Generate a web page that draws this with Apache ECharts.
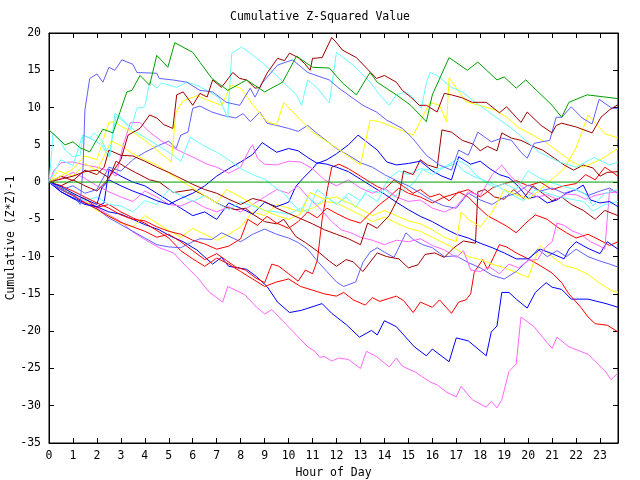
<!DOCTYPE html>
<html><head><meta charset="utf-8">
<script src="https://cdn.jsdelivr.net/npm/echarts@6/dist/echarts.min.js"></script>
<style>html,body{margin:0;padding:0;background:#fff}#c{width:640px;height:480px}</style>
</head><body><div id="c"></div>
<script>
const titleText = 'Cumulative Z-Squared Value';
const xName = 'Hour of Day';
const yName = 'Cumulative (Z*Z)-1';
const xMin = 0, xMax = 23.75, yMin = -35, yMax = 20;

const green1 = [[0,7.0],[0.67,5.0],[1.0,5.4],[1.3,4.6],[1.7,4.05],[2.25,7.1],[2.67,6.6],[3.25,12.1],[3.46,12.3],[3.8,14.3],[4.2,13.0],[4.5,17.0],[4.96,15.4],[5.25,18.7],[6.0,17.4],[6.8,13.9],[7.46,12.3],[8.25,13.7],[9.0,12.1],[9.75,13.4],[10.33,16.9],[11.0,15.4],[11.7,15.3],[12.25,13.3],[12.83,11.7],[13.4,14.7],[13.7,13.4],[14.5,11.7],[15.1,10.3],[15.75,8.1],[16.0,11.7],[16.7,16.7],[17.46,15.0],[17.9,16.1],[18.7,13.7],[19.0,14.1],[19.5,12.6],[19.9,13.7],[21.0,10.3],[21.4,8.7],[21.7,10.7],[22.46,11.7],[23.75,11.2]];
const darkred1 = [[0,0],[0.5,0.4],[1,0.8],[1.5,1.4],[2,1.6],[2.5,0.6],[3,3.0],[3.3,6.3],[3.8,7.2],[4.2,9.0],[4.5,8.6],[4.8,7.7],[5.17,7.2],[5.33,11.7],[5.6,12.1],[6.0,10.3],[6.3,11.9],[6.6,11.4],[6.83,13.7],[7.2,12.7],[7.67,14.7],[7.96,13.9],[8.25,13.7],[8.6,12.6],[8.8,12.7],[9.1,14.6],[9.54,16.6],[9.83,16.3],[10.04,17.3],[10.4,16.7],[10.67,15.9],[10.9,15.0],[11.0,16.6],[11.4,16.7],[11.8,19.4],[12.0,18.7],[12.25,17.7],[12.83,16.7],[13.25,15.3],[13.67,13.9],[14.0,14.3],[14.5,13.4],[14.75,12.3],[15.1,11.4],[15.46,10.3],[15.75,10.3],[16.2,9.4],[16.5,11.9],[16.8,11.7],[17.25,11.3],[17.67,10.7],[18.25,10.7],[18.8,9.3],[19.1,10.1],[19.5,8.7],[19.7,8.0],[19.96,9.4],[20.54,7.6],[21.0,6.6],[21.17,7.6],[21.4,7.9],[22.0,7.4],[22.67,6.6],[23.04,8.7],[23.4,9.7],[23.75,10.4]];
const lightblue1 = [[0,0],[0.5,-1.0],[1.0,-1.7],[1.3,-3.0],[1.42,1.9],[1.5,9.7],[1.7,13.9],[2.0,14.5],[2.25,13.4],[2.5,15.4],[2.75,15.0],[3.04,16.4],[3.5,15.8],[3.67,14.7],[4.5,14.6],[4.6,13.9],[5.17,13.7],[5.75,13.4],[6.3,12.3],[6.83,12.1],[7.4,10.7],[7.96,10.3],[8.4,12.6],[8.6,11.4],[8.9,13.3],[9.54,15.7],[10.17,16.4],[10.8,14.7],[11.7,13.7],[12.1,12.6],[13.1,10.3],[13.67,9.4],[14.1,8.3],[14.75,7.2],[15.17,5.9],[15.75,3.6],[16.3,2.3],[16.8,1.6],[17.1,4.3],[17.5,3.6],[17.9,6.7],[18.46,5.4],[18.9,5.9],[19.3,5.6],[19.7,4.0],[19.96,3.2],[20.25,5.2],[20.9,5.6],[21.17,8.7],[21.4,8.7],[21.8,10.1],[22.25,8.6],[22.67,7.8],[22.96,11.1],[23.5,9.9],[23.75,9.9]];
const cyan1 = [[0,0],[0.12,4.3],[0.17,6.6],[0.46,5.6],[0.67,4.3],[1.0,3.4],[1.3,3.6],[1.42,6.3],[1.7,5.9],[1.9,6.6],[2.2,5.6],[2.54,3.4],[2.75,9.2],[3.04,8.6],[3.4,7.0],[3.67,9.9],[4.0,10.1],[4.2,13.4],[4.5,12.6],[4.7,13.3],[5.33,12.7],[5.75,13.4],[6.17,13.0],[6.7,12.1],[7.1,11.3],[7.46,8.6],[7.63,17.3],[8.04,18.1],[8.4,17.3],[8.9,16.0],[9.5,14.3],[9.9,13.0],[10.33,11.7],[10.54,10.3],[10.8,13.7],[11.2,12.6],[11.5,11.4],[11.7,10.6],[12.0,17.4],[12.25,16.8],[12.83,15.3],[13.4,13.4],[13.8,11.7],[14.2,10.3],[14.5,11.7],[14.9,12.1],[15.17,11.4],[15.54,9.9],[15.75,13.3],[15.9,14.7],[16.2,14.3],[16.8,12.7],[17.25,12.1],[17.67,11.0],[18.4,9.3],[19.1,7.7],[19.5,6.7],[19.9,5.6],[20.46,4.0],[21.3,2.7],[22.0,2.0],[22.75,3.3],[23.4,2.3],[23.75,2.7]];
const magenta1 = [[0,0],[0.5,-1.0],[1,-1.8],[1.5,-2.6],[2,-3.4],[2.5,-4.4],[3,-5.3],[3.5,-6.7],[4,-7.7],[4.6,-8.8],[5.2,-9.5],[5.75,-11.4],[6.17,-12.7],[6.7,-14.8],[7.25,-16.1],[7.46,-14.0],[8.17,-15.1],[8.67,-16.8],[9.0,-17.7],[9.3,-17.1],[9.9,-19.1],[10.8,-22.1],[11.1,-22.7],[11.3,-23.5],[11.5,-23.4],[11.8,-24.0],[12.1,-23.6],[12.5,-23.8],[13.0,-25.0],[13.25,-22.7],[13.67,-23.4],[14.2,-24.8],[14.5,-23.6],[14.75,-24.7],[15.3,-25.5],[15.9,-26.8],[16.2,-27.2],[16.6,-28.2],[17.0,-28.8],[17.2,-27.4],[17.67,-29.2],[18.25,-30.2],[18.46,-29.4],[18.7,-30.3],[18.9,-29.2],[19.2,-25.4],[19.5,-24.4],[19.7,-18.1],[20.25,-19.4],[20.6,-20.8],[21.0,-22.3],[21.2,-20.8],[21.7,-22.1],[22.5,-23.1],[23.25,-25.5],[23.46,-26.5],[23.75,-25.6]];
const blue1 = [[0,0],[0.5,-1.3],[1,-2.1],[1.5,-2.8],[2,-3.3],[2.5,-4.0],[3,-4.3],[3.5,-5.0],[4,-5.7],[4.6,-6.4],[5.1,-7.3],[5.6,-8.0],[6.17,-9.1],[6.83,-11.0],[7.2,-10.1],[7.5,-11.3],[8.25,-11.7],[8.67,-12.7],[9.1,-14.0],[9.54,-16.1],[10.04,-17.5],[10.54,-17.2],[11.4,-16.3],[11.8,-17.6],[12.4,-19.1],[12.96,-20.8],[13.46,-19.9],[13.7,-20.5],[14.0,-18.6],[14.5,-19.4],[15.25,-22.1],[15.75,-23.3],[16.0,-22.4],[16.7,-24.1],[17.0,-20.9],[17.5,-21.3],[18.25,-23.3],[18.46,-20.1],[18.7,-19.3],[18.9,-14.8],[19.2,-14.8],[19.5,-15.7],[19.96,-16.9],[20.3,-14.8],[20.75,-13.5],[21.0,-14.1],[21.4,-14.4],[21.8,-15.7],[22.5,-15.7],[23.25,-16.3],[23.75,-16.8]];
const yellow1 = [[0,0],[0.5,0.8],[1,1.8],[1.5,3.5],[2,3.0],[2.5,8.0],[2.75,8.1],[3.0,7.5],[3.5,6.7],[4,5.6],[4.5,4.3],[5.1,2.7],[5.3,9.4],[5.6,10.9],[6.2,11.6],[6.6,11.0],[7.2,10.3],[7.6,13.0],[8.0,12.6],[8.6,10.0],[9.1,8.1],[9.5,7.7],[9.8,10.7],[10.3,9.0],[11.0,6.7],[12.0,4.6],[13.0,2.3],[13.4,8.3],[13.8,8.1],[14.5,7.2],[15.2,6.3],[15.9,10.7],[16.3,10.3],[16.6,8.1],[16.7,14.0],[17.4,10.8],[18.6,9.7],[19.1,8.7],[19.6,7.3],[20.2,6.3],[20.75,5.3],[21.3,4.0],[21.85,2.7],[22.3,2.0],[23.0,3.0],[23.75,4.5]];
const yellow2 = [[0,0],[0.4,1.5],[1,0.8],[1.5,2.5],[2,1.5],[2.6,5.5],[3,4.9],[3.5,3.8],[4,3.0],[4.5,2.3],[5,1.2],[5.5,0.2],[6,-0.8],[6.5,-1.8],[7,-2.8],[7.4,-1.0],[8,-2.0],[8.5,-3.0],[9,-3.8],[9.5,-4.5],[10,-5.0],[10.5,-4.3],[10.9,-1.4],[11.5,-2.3],[12,-2.0],[12.5,-2.8],[13,-3.6],[13.5,-4.5],[14,-3.8],[14.5,-4.5],[15,-5.2],[15.5,-5.6],[16,-6.4],[16.5,-7.4],[17,-8.0],[17.2,-4.0],[17.5,-5.0],[18,-6.0],[18.5,-4.0],[19,-1.0],[19.5,-1.7],[20,-2.3],[20.5,-1.0],[21,0.4],[21.5,1.8],[22,4.6],[22.5,9.0],[22.7,8.3],[23.2,6.5],[23.75,5.9]];
const yellow3 = [[0,0],[0.5,-1.0],[1,-1.5],[1.5,-2.5],[2,-3.8],[2.5,-4.5],[3,-5.5],[3.5,-6.0],[4,-4.5],[4.5,-5.5],[5,-6.5],[5.5,-7.4],[6,-6.2],[6.5,-7.0],[7,-7.8],[7.5,-7.0],[8,-6.0],[8.5,-4.0],[9,-4.5],[9.5,-3.0],[10,-3.5],[10.5,-4.0],[11,-3.5],[11.5,-2.6],[12,-2.8],[12.5,-3.6],[13,-4.4],[13.5,-5.3],[14,-4.7],[14.5,-5.5],[15,-6.2],[15.5,-6.6],[16,-7.4],[16.5,-8.2],[17,-9.0],[17.5,-10.0],[18,-10.4],[18.5,-11.0],[19,-11.5],[19.5,-12.1],[20,-12.8],[20.5,-8.5],[21,-10.0],[21.5,-11.2],[22,-11.6],[22.5,-12.4],[23,-13.6],[23.5,-14.6],[23.75,-14.8]];
const cyan2 = [[0,0],[0.25,1.5],[0.5,3.0],[1,2.2],[1.4,6.3],[1.7,5.9],[2.2,5.0],[2.5,3.4],[2.8,8.8],[3.2,8.0],[3.6,6.8],[4.1,5.8],[4.6,4.8],[5.1,3.8],[5.5,2.8],[5.9,6.0],[6.4,5.0],[7,4.0],[7.5,3.0],[8,1.8],[8.5,1.0],[9,0.4],[9.4,-0.6],[9.8,-1.5],[10.2,-3.0],[10.5,-4.0],[10.8,-2.0],[11.2,-3.0],[11.6,-2.0],[12.0,-3.0],[12.4,-2.0],[12.8,-3.4],[13.2,-1.5],[13.7,-2.6],[14.0,-1.0],[14.4,-2.0],[14.8,-1.0],[15.2,-0.2],[15.6,1.7],[16.0,1.0],[16.5,2.0],[17.0,3.0],[17.5,2.2],[17.8,1.0],[18.2,0],[18.6,-0.7],[19.0,-0.2],[19.5,-1.0],[20.0,1.5],[20.5,0.5],[21.0,-0.1],[21.5,-0.6],[22.0,-1.0],[22.4,-1.6],[22.7,-3.2],[23.2,-1.5],[23.75,-1.0]];
const cyan3 = [[0,0],[0.5,-0.7],[1,-1.5],[1.5,-2.5],[2,-2.0],[2.5,-3.0],[3,-3.2],[3.5,-4.0],[4,-2.5],[4.5,-3.0],[5,-1.0],[5.5,-1.8],[6,-2.6],[6.5,-1.8],[7,-2.8],[7.5,-3.7],[8,-2.7],[8.5,-3.2],[9,-3.8],[9.5,-4.0],[10,-4.3],[10.5,-3.5],[10.8,-4.0],[11.2,-1.0],[11.6,-2.0],[12,-3.0],[12.5,-1.5],[13,-2.5],[13.3,-1.0],[13.8,-1.5],[14.2,0.5],[14.6,1.5],[15,1.0],[15.5,1.8],[16,1.6],[16.5,2.0],[17,2.5],[17.3,1.5],[17.7,0.8],[18.2,0.2],[18.7,-0.5],[19.2,-1.5],[19.8,-2.5],[20.3,-1.0],[20.8,-1.5],[21.3,-2.0],[21.8,-2.3],[22.3,-2.6],[22.7,-3.9],[23.2,-3.0],[23.75,-2.6]];
const darkred2 = [[0,0],[0.5,-0.5],[1,0.3],[1.5,-0.5],[2,-1.2],[2.5,0.5],[2.8,2.8],[3.2,2.0],[3.6,1.3],[4.2,0.3],[4.6,0],[5.2,-1.4],[6,-1.0],[6.6,-2.0],[7,-2.8],[7.4,-3.4],[7.8,-3.7],[8.2,-3.5],[8.5,-4.3],[9,-5.3],[9.5,-5.6],[9.8,-5.0],[10.3,-7.3],[10.7,-8.1],[11.3,-9.5],[11.7,-10.6],[12,-11.3],[12.4,-10.4],[12.7,-10.7],[13.1,-12.0],[13.7,-9.5],[14.1,-10.0],[14.6,-10.3],[15,-11.5],[15.4,-11.1],[15.7,-9.7],[16.1,-9.5],[16.5,-10.1],[16.9,-8.8],[17.3,-7.9],[17.8,-8.2],[17.9,-1.3],[18.2,-1.0],[18.6,-2.0],[19.0,-2.3],[19.4,-1.0],[19.8,-2.2],[20.2,-0.5],[20.6,-1.5],[21,-2.5],[21.4,-2.0],[21.8,-3.0],[22.3,-3.8],[22.8,-5.0],[23.2,-3.8],[23.75,-4.5]];
const darkred3 = [[0,0],[0.5,0.8],[1,0.2],[1.5,1.6],[2,1.0],[2.3,2.0],[2.5,4.3],[3,3.6],[3.5,3.5],[4,2.8],[4.5,2.0],[5,1.3],[5.5,0.5],[6,-0.3],[6.5,-1.0],[7,-1.5],[7.5,-2.3],[8,-3.0],[8.5,-2.2],[9,-2.6],[9.5,-3.5],[10,-4.2],[10.5,-4.9],[11,-5.6],[11.5,-6.4],[12,-7.0],[12.5,-7.6],[13,-8.4],[13.3,-5.5],[13.7,-6.2],[14.2,-4.5],[14.6,-2.0],[14.8,1.5],[15.2,1.0],[15.5,3.0],[15.8,2.3],[16.2,1.9],[16.4,7.0],[16.8,6.7],[17.25,5.6],[17.7,5.1],[18.0,4.2],[18.3,4.8],[18.7,4.2],[18.9,6.6],[19.3,5.9],[19.7,5.6],[20.2,4.8],[20.6,4.3],[21.1,3.2],[21.5,2.3],[21.9,1.6],[22.3,2.3],[22.7,1.9],[23.0,0.8],[23.3,1.3],[23.75,1.4]];
const red1 = [[0,0],[0.5,-1.0],[1,-1.8],[1.5,-2.8],[2,-3.6],[2.5,-4.6],[3,-5.4],[3.5,-6.0],[4,-6.6],[4.5,-7.4],[5,-7.0],[5.5,-8.0],[6,-9.2],[6.5,-10.4],[7,-9.6],[7.4,-10.5],[7.8,-11.4],[8.2,-11.8],[8.6,-12.8],[9,-13.5],[9.3,-11.0],[9.6,-11.3],[10,-12.3],[10.4,-13.3],[10.7,-11.8],[11,-12.3],[11.2,-10.5],[11.4,-5.0],[11.6,-1.3],[11.8,2.0],[12.1,2.4],[12.5,1.8],[12.9,1.0],[13.3,0.2],[13.7,-0.6],[14.0,-1.0],[14.4,0.3],[14.8,-0.6],[15.2,-1.5],[15.5,-1.0],[15.9,-2.0],[16.3,-1.6],[16.7,-2.5],[17.1,-1.3],[17.5,-2.0],[17.9,-3.3],[18.3,-4.5],[18.7,-5.2],[19.1,-5.9],[19.5,-6.8],[19.9,-5.5],[20.3,-4.4],[20.8,-5.0],[21.2,-6.0],[21.6,-6.8],[22,-7.5],[22.5,-7.0],[23,-7.8],[23.4,-8.5],[23.75,-8.0]];
const red2 = [[0,0],[0.5,-0.8],[1,-1.7],[1.5,-2.2],[2,-3.4],[2.5,-3.0],[3,-4.0],[3.5,-4.8],[4,-5.5],[4.5,-6.5],[5,-7.5],[5.5,-9.2],[6,-10.3],[6.5,-11.3],[7,-10.2],[7.5,-11.0],[8,-12.0],[8.5,-13.0],[9,-14.0],[9.5,-13.4],[10,-13.0],[10.5,-14.0],[11,-14.5],[11.5,-15.0],[12,-15.3],[12.3,-14.8],[12.7,-15.8],[13.2,-16.5],[13.5,-15.5],[13.8,-16.0],[14.5,-15.3],[14.8,-15.9],[15.2,-17.5],[15.5,-16.1],[16,-16.8],[16.3,-15.8],[16.8,-17.6],[17.1,-16.1],[17.4,-15.8],[17.6,-15.0],[17.75,-12.1],[18.1,-10.4],[18.3,-11.7],[18.45,-10.8],[18.8,-8.4],[19.1,-8.7],[19.5,-9.5],[20.0,-10.3],[20.5,-11.2],[21.0,-12.2],[21.4,-13.5],[21.7,-15.0],[22.2,-16.8],[22.5,-18.1],[22.8,-19.0],[23.3,-19.2],[23.75,-20.1]];
const red3 = [[0,0],[0.5,-0.5],[1,-1.2],[1.5,-2.0],[2,-2.8],[2.5,-3.5],[3,-4.4],[3.5,-5.0],[4,-5.2],[4.5,-6.0],[5,-6.6],[5.5,-7.0],[6,-7.8],[6.5,-8.3],[7,-9.0],[7.5,-8.6],[8,-7.6],[8.3,-5.0],[8.7,-5.8],[9.1,-4.6],[9.5,-5.5],[10,-6.2],[10.4,-5.3],[10.8,-4.0],[11.2,-4.8],[11.6,-3.5],[12,-4.2],[12.5,-5.0],[13,-5.5],[13.4,-4.2],[13.8,-3.0],[14.2,-2.0],[14.6,-0.8],[15.0,-1.5],[15.5,-2.0],[16,-2.8],[16.5,-2.0],[17,-1.5],[17.5,-1.0],[18,-2.0],[18.5,-0.8],[19,-0.2],[19.5,0.2],[20,-0.5],[20.5,0],[21,-1.0],[21.5,-0.5],[22,-0.2],[22.4,1.0],[22.8,0.3],[23.2,2.0],[23.75,0.8]];
const blue2 = [[0,0],[0.5,-0.6],[1,-1.5],[1.5,-2.3],[2,-3.0],[2.2,-0.8],[2.5,0.3],[3,-0.5],[3.5,-1.2],[4,-1.8],[4.5,-2.5],[5,-3.0],[5.5,-2.2],[6,-1.5],[6.5,-0.5],[7,0.8],[7.5,1.8],[8,2.7],[8.5,3.7],[8.9,5.3],[9.5,4.0],[10,4.5],[10.4,4.2],[10.8,3.3],[11.2,2.5],[11.6,3.0],[12,3.8],[12.5,5.0],[12.9,6.3],[13.3,5.3],[13.7,4.3],[14.1,2.7],[14.5,2.3],[15,2.5],[15.5,2.8],[16,1.5],[16.4,0.8],[16.8,0.3],[17.1,3.4],[17.6,2.4],[18,2.8],[18.4,1.8],[18.8,1.0],[19.2,0.6],[19.6,-0.6],[20,-2.2],[20.4,-1.9],[20.8,-2.8],[21.2,-2.4],[21.6,-1.5],[22,-1.0],[22.3,-0.4],[22.6,-2.4],[23,-2.8],[23.4,-2.6],[23.75,-3.3]];
const blue3 = [[0,0],[0.5,-1.3],[1,-2.2],[1.5,-3.0],[2,-3.3],[2.3,-2.8],[2.5,1.7],[3,0.8],[3.5,0],[4,-0.5],[4.5,-1.5],[5,-2.5],[5.5,-3.5],[6,-4.5],[6.5,-4.0],[7,-5.0],[7.5,-2.8],[8,-3.5],[8.5,-4.3],[9,-2.7],[9.5,-3.3],[10,-2.7],[10.3,-0.6],[10.6,0.5],[11,1.8],[11.2,2.6],[11.6,2.4],[12,2.0],[12.5,1.4],[13,0.4],[13.5,-0.6],[14,-1.6],[14.5,-2.7],[15,-3.7],[15.5,-4.6],[16,-5.3],[16.5,-6.2],[17,-7.0],[17.5,-7.5],[18,-8.2],[18.5,-8.8],[19,-9.5],[19.5,-10.3],[20,-10.3],[20.5,-9.0],[21,-9.6],[21.5,-10.3],[21.7,-9.0],[22,-8.0],[22.5,-8.9],[23,-9.6],[23.3,-8.0],[23.75,-9.0]];
const lightblue2 = [[0,0],[0.5,-1.0],[1,-0.5],[1.5,-1.5],[2,-1.0],[2.5,2.0],[3,1.5],[3.5,3.0],[4,4.0],[4.5,4.8],[5,5.5],[5.3,4.5],[5.5,6.3],[5.8,6.7],[6,9.9],[6.3,10.2],[6.8,9.4],[7.3,8.9],[7.8,8.6],[8.1,9.2],[8.4,8.1],[8.8,9.4],[9.1,7.9],[9.5,7.6],[10,7.2],[10.4,6.8],[10.8,7.6],[11.2,6.5],[11.6,5.5],[12,4.5],[12.5,3.6],[13,2.6],[13.5,2.0],[14,1.0],[14.5,0.2],[15,-0.5],[15.5,-1.5],[16,-2.5],[16.5,-3.2],[17,-3.5],[17.5,-1.5],[18,-2.4],[18.5,-3.0],[19,-2.0],[19.5,-1.5],[20,-0.4],[20.5,-1.2],[21,-0.8],[21.5,-1.5],[22,-1.0],[22.5,-1.8],[23,-1.2],[23.4,-0.8],[23.75,-1.5]];
const lightblue3 = [[0,0],[0.5,-1.0],[1,-1.8],[1.5,-2.8],[2,-3.6],[2.5,-4.8],[3,-5.7],[3.5,-6.6],[4,-7.5],[4.5,-8.4],[5,-8.7],[5.5,-8.8],[6,-8.0],[6.3,-7.6],[6.8,-7.7],[7.2,-6.8],[7.6,-7.4],[8,-8.0],[8.5,-7.0],[9,-6.3],[9.5,-7.0],[10,-7.5],[10.4,-8.1],[10.8,-9.0],[11.2,-10.6],[11.6,-12.0],[12,-13.4],[12.3,-14.0],[12.8,-13.4],[13.1,-10.8],[13.4,-9.4],[13.7,-8.8],[14.0,-9.4],[14.4,-10.1],[14.6,-8.8],[14.9,-6.8],[15.2,-7.7],[15.6,-8.4],[16,-8.8],[16.5,-10.0],[17,-9.9],[17.5,-10.8],[18,-11.5],[18.5,-12.5],[19,-13.0],[19.5,-12.0],[20,-10.5],[20.4,-9.0],[20.8,-10.0],[21.2,-9.2],[21.6,-10.0],[22,-9.0],[22.5,-10.0],[23,-10.6],[23.4,-11.0],[23.75,-11.4]];
const magenta2 = [[0,0],[0.2,1.5],[0.5,2.6],[1,2.7],[1.5,2.3],[2,2.0],[2.5,1.5],[2.8,0.8],[3.1,5.0],[3.4,8.0],[3.8,8.0],[4.2,6.7],[4.7,5.5],[5.2,4.6],[5.7,3.8],[6.1,3.2],[6.6,2.4],[7,2.0],[7.5,1.2],[8,2.0],[8.4,4.6],[8.5,5.0],[8.7,3.2],[9.0,2.4],[9.5,2.3],[10,2.8],[10.5,2.7],[11,1.8],[11.5,0.3],[12,-0.5],[12.5,0.3],[13,-0.8],[13.5,-1.5],[14,-0.8],[14.5,-2.0],[15,-2.6],[15.5,-2.4],[16,-3.5],[16.5,-4.0],[17,-3.3],[17.5,-1.3],[18,-1.8],[18.5,1.0],[18.9,2.3],[19.2,1.0],[19.6,-0.2],[20,-1.3],[20.4,-2.0],[20.8,-1.7],[21.2,-2.3],[21.6,-1.6],[22,-1.7],[22.4,-2.3],[22.8,-1.8],[23.2,-1.5],[23.75,-1.3]];
const magenta3 = [[0,0],[0.5,0.5],[1,1.3],[1.5,0.5],[2,-0.5],[2.5,-1.3],[3,-2.0],[3.5,-2.6],[4,-1.2],[4.5,-2.0],[5,-3.0],[5.5,-3.2],[6,-2.5],[6.5,-3.4],[7,-4.0],[7.5,-3.3],[8,-4.0],[8.5,-3.0],[9,-2.0],[9.5,-1.0],[10,-1.5],[10.4,-0.5],[10.8,-2.0],[11.3,-3.5],[11.8,-5.3],[12.2,-6.4],[12.6,-6.8],[13,-7.4],[13.5,-7.8],[14,-8.4],[14.5,-7.8],[15,-8.0],[15.5,-7.6],[16,-8.5],[16.5,-9.1],[17,-10.1],[17.3,-9.2],[17.6,-11.8],[18,-12.0],[18.4,-11.4],[18.8,-12.3],[19.2,-11.0],[19.6,-11.5],[20,-10.5],[20.4,-10.4],[20.7,-8.8],[21,-8.0],[21.2,-5.5],[21.5,-5.8],[21.8,-6.5],[22.2,-7.0],[22.6,-8.0],[23,-8.6],[23.2,-9.0],[23.4,-1.0],[23.75,-1.5]];
const zeroLine = [[0,0],[23.75,0]];

const GREEN='#00a000', DRED='#a00000', RED='#ff0000', BLUE='#0000ff', LBLUE='#6060ff', CYAN='#66ffff', YEL='#ffff00', MAG='#ff66ff';
const seriesDefs = [
  [magenta1,MAG],[blue1,BLUE],[red2,RED],[yellow3,YEL],[lightblue3,LBLUE],[red1,RED],[blue3,BLUE],[magenta3,MAG],
  [darkred2,DRED],[cyan3,CYAN],[red3,RED],[blue2,BLUE],[lightblue2,LBLUE],[magenta2,MAG],[cyan2,CYAN],[yellow2,YEL],
  [darkred3,DRED],[yellow1,YEL],[cyan1,CYAN],[lightblue1,LBLUE],[darkred1,DRED],[green1,GREEN],[zeroLine,GREEN]
];

const FONT = 'DejaVu Sans Mono';
const chart = echarts.init(document.getElementById('c'), null, {renderer:'canvas'});
const tickCommon = {show:true, inside:true, length:5, lineStyle:{color:'#000',width:1}};
const lineCommon = {show:true, onZero:false, lineStyle:{color:'#000',width:1}};
chart.setOption({
  animation:false,
  backgroundColor:'#fff',
  title:{text:titleText, left:'center', top:6, textStyle:{fontFamily:FONT, fontSize:11.5, fontWeight:'normal', color:'#000'}},
  grid:{left:49, right:22, top:33, bottom:37, containLabel:false, outerBoundsMode:'none', show:true, borderColor:'#000', borderWidth:1, backgroundColor:'transparent'},
  xAxis:[
    {type:'value', min:xMin, max:xMax, interval:1, position:'bottom', name:xName, nameLocation:'middle', nameGap:23,
     nameTextStyle:{fontFamily:FONT, fontSize:11.5, color:'#000'},
     axisLine:lineCommon, axisTick:tickCommon, splitLine:{show:false},
     axisLabel:{fontFamily:FONT, fontSize:11.5, color:'#000', margin:7, formatter:v=>Number.isInteger(v)?String(v):''}},
    {type:'value', min:xMin, max:xMax, interval:1, position:'top',
     axisLine:lineCommon, axisTick:tickCommon, splitLine:{show:false}, axisLabel:{show:false}}
  ],
  yAxis:[
    {type:'value', min:yMin, max:yMax, interval:5, position:'left', name:yName, nameLocation:'middle', nameGap:32, nameMoveOverlap:false,
     nameTextStyle:{fontFamily:FONT, fontSize:11.5, color:'#000'},
     axisLine:lineCommon, axisTick:tickCommon, splitLine:{show:false},
     axisLabel:{fontFamily:FONT, fontSize:11.5, color:'#000', margin:8}},
    {type:'value', min:yMin, max:yMax, interval:5, position:'right',
     axisLine:lineCommon, axisTick:tickCommon, splitLine:{show:false}, axisLabel:{show:false}}
  ],
  series: seriesDefs.map(([d,c])=>({type:'line', data:d, showSymbol:false, symbol:'none', silent:true, clip:true,
    lineStyle:{color:c, width:1}, itemStyle:{color:c}}))
});
</script></body></html>
